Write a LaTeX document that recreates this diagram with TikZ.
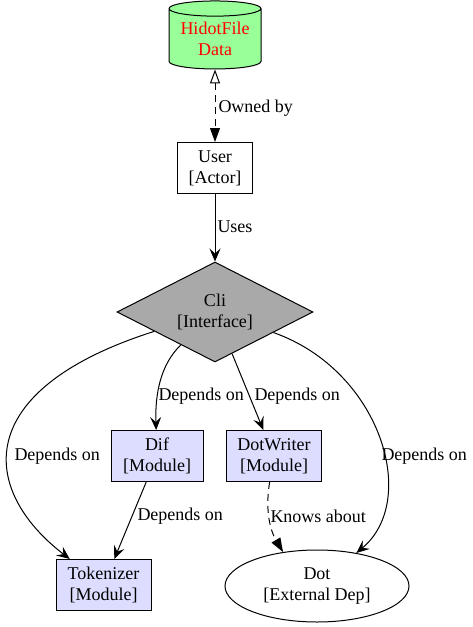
\documentclass[tikz,border=0pt]{standalone}
\usepackage{fontspec}
\setmainfont{Liberation Serif}
\usetikzlibrary{shapes.geometric,arrows.meta}
\definecolor{modfill}{HTML}{DDDDFF}
\definecolor{datafill}{HTML}{99FF99}
\definecolor{clifill}{HTML}{A9A9A9}
\begin{document}
\begin{tikzpicture}[%
    x=1pt, y=-1pt, line width=1pt,
    font=\fontsize{18}{21}\selectfont,
    every node/.style={align=center, inner sep=0pt},
    module/.style={draw, fill=modfill, minimum height=51pt},
    dep/.style={-{Stealth[length=13pt, width=11pt, inset=5pt]}},
    knows/.style={dashed, dash pattern=on 7pt off 5pt, -{Triangle[length=14pt, width=10pt]}},
    lbl/.style={anchor=west}]
  \useasboundingbox (0,0) rectangle (473,627);
  % nodes
  \node (data) [cylinder, shape border rotate=90, draw, fill=datafill, text=red,
    aspect=0.22, minimum width=92pt, minimum height=68pt] at (215,39) {HidotFile\\Data};
  \node (user) [draw, minimum width=75pt, minimum height=51pt] at (215,168) {User\\{[Actor]}};
  \node (cli) [diamond, draw, fill=clifill, aspect=2, minimum width=196pt,
    minimum height=100pt] at (215,312) {Cli\\{[Interface]}};
  \node (dif) [module, minimum width=92pt] at (157,456) {Dif\\{[Module]}};
  \node (dw) [module, minimum width=95pt] at (274,456) {DotWriter\\{[Module]}};
  \node (tok) [module, minimum width=95pt] at (103.5,585) {Tokenizer\\{[Module]}};
  \node (dot) [ellipse, draw, minimum width=184pt, minimum height=72pt] at (317,586) {Dot\\{[External Dep]}};
  % edges
  \draw[dashed, dash pattern=on 7pt off 5pt,
    {Triangle[open, length=14pt, width=10pt]}-{Triangle[length=14pt, width=10pt]}] (data) -- (user);
  \draw[dep] (user) -- (cli);
  \draw[dep] (cli) .. controls (160,365) and (155,395) .. (dif);
  \draw[dep] (cli) -- (dw);
  \draw[dep] (cli) .. controls (-30,390) and (-20,490) .. (tok);
  \draw[dep] (cli) .. controls (380,370) and (420,500) .. (dot.40);
  \draw[dep] (dif) -- (tok);
  \draw[knows] (dw) .. controls (265,510) and (270,530) .. (dot.135);
  % labels
  \node (lowned) [lbl] at (218,108) {Owned by};
  \node (luses) [lbl] at (217,227) {Uses};
  \node (ldif) [lbl] at (158,396) {Depends on};
  \node (ldw) [lbl] at (254,396) {Depends on};
  \node (ltok) [lbl] at (14,456) {Depends on};
  \node (ldot) [lbl] at (381,456) {Depends on};
  \node (ldiftok) [lbl] at (137,516) {Depends on};
  \node (lknows) [lbl] at (270,516) {Knows about};
\end{tikzpicture}
\end{document}
